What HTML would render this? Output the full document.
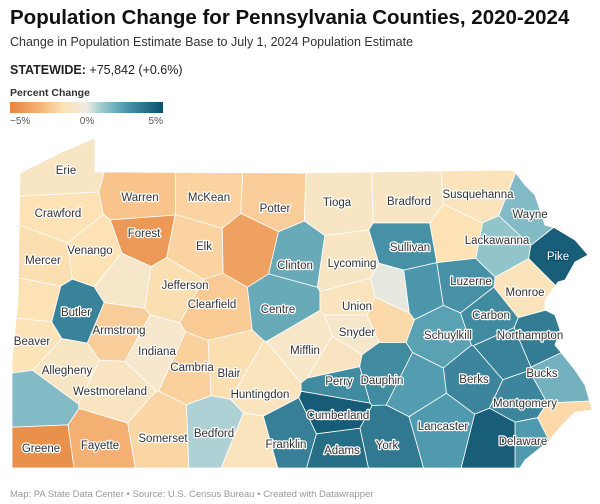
<!DOCTYPE html>
<html><head><meta charset="utf-8">
<style>
html,body{margin:0;padding:0;background:#fff;}
svg{display:block;font-family:"Liberation Sans",sans-serif;}
.lbl{font-size:11.5px;fill:#333;stroke:#fff;stroke-width:2.5px;paint-order:stroke;stroke-linejoin:round;text-anchor:middle;}
</style></head><body>
<svg id="chart" width="600" height="504" viewBox="0 0 600 504">
<defs>
<linearGradient id="lg" x1="0" x2="1" y1="0" y2="0">
<stop offset="0" stop-color="#e6843f"/><stop offset="0.2" stop-color="#f5b578"/><stop offset="0.35" stop-color="#fde2b5"/>
<stop offset="0.5" stop-color="#efebe2"/><stop offset="0.6" stop-color="#9ccbd0"/><stop offset="0.75" stop-color="#4f9aae"/><stop offset="1" stop-color="#0b4f6c"/>
</linearGradient>
</defs>
<text x="10" y="24" font-size="20.5" font-weight="bold" fill="#111">Population Change for Pennsylvania Counties, 2020-2024</text>
<text x="10" y="46" font-size="12.5" fill="#333">Change in Population Estimate Base to July 1, 2024 Population Estimate</text>
<text x="10" y="74" font-size="12.5" fill="#222"><tspan font-weight="bold">STATEWIDE:</tspan> +75,842 (+0.6%)</text>
<text x="10" y="96" font-size="10.5" font-weight="bold" fill="#333">Percent Change</text>
<rect x="10" y="102" width="153" height="11" fill="url(#lg)"/>
<text x="10" y="124" font-size="10" fill="#555">−5%</text>
<text x="87" y="124" font-size="10" fill="#555" text-anchor="middle">0%</text>
<text x="163" y="124" font-size="10" fill="#555" text-anchor="end">5%</text>
<g id="counties"></g>
<g id="labels"></g>
<text x="10" y="497" font-size="9.5" fill="#999">Map: PA State Data Center • Source: U.S. Census Bureau • Created with Datawrapper</text>
</svg>
<script>
const counties = ["Erie","Crawford","Warren","McKean","Potter","Tioga","Bradford","Susquehanna","Wayne","Pike","Lackawanna","Wyoming","Sullivan","Lycoming","Clinton","Cameron","Elk","Forest","Venango","Mercer","Clarion","Jefferson","Clearfield","Centre","Lawrence","Butler","Beaver","Armstrong","Indiana","Allegheny","Washington","Westmoreland","Greene","Fayette","Somerset","Cambria","Blair","Bedford","Huntingdon","Fulton","Franklin","Mifflin","Juniata","Union","Snyder","Northumberland","Montour","Columbia","Luzerne","Carbon","Monroe","Northampton","Lehigh","Schuylkill","Berks","Bucks","Montgomery","Philadelphia","Delaware","Chester","Lancaster","York","Adams","Cumberland","Perry","Dauphin","Lebanon"];
const pctChange = [-1.0,-1.5,-2.5,-2.0,-2.2,-1.0,-1.0,-1.3,1.5,4.5,1.2,-1.5,2.8,-1.0,2.0,-3.8,-2.0,-4.2,-1.5,-1.6,-0.8,-1.6,-2.3,2.0,-1.5,3.3,-1.4,-2.2,-0.7,-1.0,1.5,-1.1,-4.5,-3.2,-1.9,-2.1,-1.6,0.8,-1.2,-1.2,3.4,-0.9,-1.1,-1.2,-0.8,-1.8,0.1,2.6,2.8,3.0,-1.3,3.5,3.3,2.3,3.2,1.8,3.2,-1.8,2.5,4.5,2.5,3.6,4.0,4.6,3.0,3.0,2.4];
const labeled = ["Erie","Crawford","Warren","McKean","Potter","Tioga","Bradford","Susquehanna","Wayne","Lackawanna","Sullivan","Pike","Lycoming","Clinton","Forest","Venango","Mercer","Elk","Jefferson","Butler","Clearfield","Centre","Armstrong","Indiana","Beaver","Allegheny","Westmoreland","Cambria","Blair","Huntingdon","Mifflin","Union","Snyder","Monroe","Luzerne","Carbon","Schuylkill","Northampton","Bucks","Perry","Dauphin","Berks","Montgomery","Cumberland","Lancaster","Delaware","Franklin","Adams","York","Bedford","Somerset","Fayette","Greene"];

const seeds = {Erie:[60,175],Crawford:[62,213],Warren:[141,197],McKean:[210,197],Potter:[273,200],Tioga:[337,202],Bradford:[408,200],Susquehanna:[478,195],Wayne:[528,215],Pike:[560,255],Lackawanna:[500,245],Wyoming:[458,237],Sullivan:[408,246],Lycoming:[345,265],Clinton:[297,258],Cameron:[250,247],Elk:[195,248],Forest:[144,238],Venango:[95,255],Mercer:[44,262],Clarion:[125,280],Jefferson:[172,287],Clearfield:[214,310],Centre:[285,302],Lawrence:[36,302],Butler:[75,312],Beaver:[32,338],Armstrong:[118,330],Indiana:[155,350],Allegheny:[65,368],Washington:[40,402],Westmoreland:[115,392],Greene:[42,450],Fayette:[100,442],Somerset:[160,432],Cambria:[192,367],Blair:[227,365],Bedford:[215,430],Huntingdon:[262,385],Fulton:[252,445],Franklin:[288,435],Mifflin:[310,345],Juniata:[335,360],Union:[355,302],Snyder:[355,328],Northumberland:[385,315],Montour:[395,293],Columbia:[418,290],Luzerne:[463,283],Carbon:[490,318],Monroe:[525,290],Northampton:[538,338],Lehigh:[505,352],Schuylkill:[440,335],Berks:[475,378],Bucks:[558,380],Montgomery:[522,400],Philadelphia:[560,425],Delaware:[530,440],Chester:[500,440],Lancaster:[440,425],York:[387,440],Adams:[340,450],Cumberland:[335,412],Perry:[340,383],Dauphin:[385,370],Lebanon:[415,385]};
const labelPos = {Erie:[66,174],Crawford:[58,217],Warren:[140,201],McKean:[209,201],Potter:[275,212],Tioga:[337,206],Bradford:[409,205],Susquehanna:[478,198],Wayne:[530,218],Lackawanna:[497,244],Sullivan:[410,251],Pike:[558,260],Lycoming:[352,267],Clinton:[295,269],Forest:[144,237],Venango:[90,254],Mercer:[43,264],Elk:[204,250],Jefferson:[185,289],Butler:[76,316],Clearfield:[212,308],Centre:[278,313],Armstrong:[119,334],Indiana:[157,355],Beaver:[32,345],Allegheny:[67,374],Westmoreland:[110,395],Cambria:[192,371],Blair:[229,377],Huntingdon:[260,398],Mifflin:[305,354],Union:[357,310],Snyder:[357,336],Monroe:[525,296],Luzerne:[471,285],Carbon:[491,319],Schuylkill:[448,339],Northampton:[530,339],Bucks:[542,377],Perry:[339,385],Dauphin:[382,384],Berks:[474,383],Montgomery:[525,407],Cumberland:[338,419],Lancaster:[443,430],Delaware:[523,445],Franklin:[286,448],Adams:[342,454],York:[387,449],Bedford:[214,437],Somerset:[163,442],Fayette:[100,449],Greene:[41,452]};
const outline = [[20,173],[62,152],[95,138],[95,172],[300,173],[510,170],[515,172],[525,185],[535,195],[540,210],[545,225],[555,228],[575,240],[588,255],[575,262],[565,280],[558,282],[545,300],[545,310],[555,315],[560,330],[555,345],[575,370],[585,385],[592,410],[575,412],[562,425],[548,442],[540,448],[525,460],[520,468],[12,468],[12,360],[18,300]];

const stops=[[-5,[230,132,63]],[-3,[245,181,120]],[-1.5,[253,226,181]],[0,[239,235,226]],[1,[156,203,208]],[2.5,[79,154,174]],[5,[11,79,108]]];
function colorScale(v){
  v=Math.max(-5,Math.min(5,v));
  for(let i=0;i<stops.length-1;i++){
    const [a,ca]=stops[i],[b,cb]=stops[i+1];
    if(v<=b){const t=(v-a)/(b-a);return 'rgb('+ca.map((c,k)=>Math.round(c+(cb[k]-c)*t)).join(',')+')';}
  }
  return 'rgb(11,79,108)';
}
function clip(poly,a,b){
  const m=[(a[0]+b[0])/2,(a[1]+b[1])/2],d=[b[0]-a[0],b[1]-a[1]];
  const f=p=>(p[0]-m[0])*d[0]+(p[1]-m[1])*d[1];
  const out=[];
  for(let i=0;i<poly.length;i++){
    const p=poly[i],q=poly[(i+1)%poly.length],fp=f(p),fq=f(q);
    if(fp<=0)out.push(p);
    if((fp<0&&fq>0)||(fp>0&&fq<0)){const t=fp/(fp-fq);out.push([p[0]+(q[0]-p[0])*t,p[1]+(q[1]-p[1])*t]);}
  }
  return out;
}
const NS='http://www.w3.org/2000/svg';
const g=document.getElementById('counties');
counties.forEach((name,i)=>{
  let poly=outline.slice();
  const a=seeds[name];
  counties.forEach(o=>{if(o!==name)poly=clip(poly,a,seeds[o]);});
  const p=document.createElementNS(NS,'polygon');
  p.setAttribute('points',poly.map(q=>q[0].toFixed(1)+','+q[1].toFixed(1)).join(' '));
  p.setAttribute('fill',colorScale(pctChange[i]));
  p.setAttribute('stroke','#fff');
  p.setAttribute('stroke-width','0.8');
  
  
  g.appendChild(p);
});
const lg=document.getElementById('labels');
labeled.forEach(name=>{
  const t=document.createElementNS(NS,'text');
  const pos=labelPos[name];
  t.setAttribute('x',pos[0]);t.setAttribute('y',pos[1]);
  t.setAttribute('class','lbl');
  if(name==='Pike'){t.style.fill='#fff';t.style.stroke='#0b4f6c';}
  t.textContent=name;
  
  
  lg.appendChild(t);
});
</script>
</body></html>
